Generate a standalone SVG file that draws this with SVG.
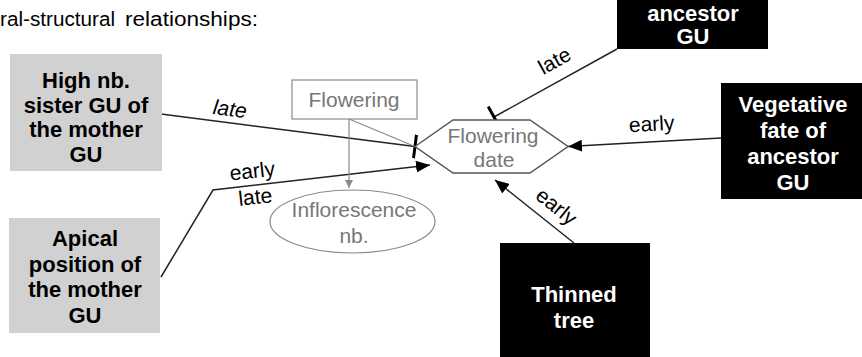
<svg xmlns="http://www.w3.org/2000/svg" width="862" height="357" viewBox="0 0 862 357">
<defs>
<style>
.t{font-family:"Liberation Sans",Arial,sans-serif}
.bw{font-family:"Liberation Sans",Arial,sans-serif;font-weight:bold;font-size:22px;fill:#fff;text-anchor:middle}
.bk{font-family:"Liberation Sans",Arial,sans-serif;font-weight:bold;font-size:22px;fill:#000;text-anchor:middle}
.gt{font-family:"Liberation Sans",Arial,sans-serif;font-size:21px;fill:#777;text-anchor:middle}
.lb{font-family:"Liberation Sans",Arial,sans-serif;font-size:21px;fill:#000;text-anchor:middle}
.ln{fill:none;stroke:#222;stroke-width:1.5}
.gl{fill:none;stroke:#8a8a8a;stroke-width:1.2}
</style>
<marker id="arr" markerWidth="14" markerHeight="12" refX="14" refY="6" orient="auto" markerUnits="userSpaceOnUse"><path d="M0,0 L14,6 L0,12 Z" fill="#000"/></marker>
<marker id="garr" markerWidth="8" markerHeight="8" refX="8" refY="4" orient="auto" markerUnits="userSpaceOnUse"><path d="M0,0 L8,4 L0,8 Z" fill="#8a8a8a"/></marker>
<marker id="tbar" markerWidth="4" markerHeight="24" refX="2" refY="12" orient="auto" markerUnits="userSpaceOnUse"><rect x="0.5" y="0" width="3" height="24" fill="#000"/></marker>
</defs>
<rect width="862" height="357" fill="#fff"/>
<text class="t" font-size="20" y="26"><tspan x="0" textLength="115" lengthAdjust="spacingAndGlyphs">ral-structural</tspan><tspan x="125" textLength="133" lengthAdjust="spacingAndGlyphs">relationships:</tspan></text>

<g id="connectors">
<path class="ln" d="M161,114 L415,146.5" marker-end="url(#tbar)"/>
<path class="ln" d="M161,277 L213,190 L430,165" marker-end="url(#arr)"/>
<path class="ln" d="M617,49 L494,117" marker-end="url(#tbar)"/>
<path class="ln" d="M721,138 L568,146.5" marker-end="url(#arr)"/>
<path class="ln" d="M574,243 L495,180" marker-end="url(#arr)"/>
<path class="gl" d="M349,119 L349,188" marker-end="url(#garr)"/>
<path class="gl" d="M349,119 L415,146.5"/>
<text class="lb" font-style="italic" x="229" y="116" transform="rotate(7 229 116)">late</text>
<text class="lb" x="253" y="178" transform="rotate(-6.4 253 178)">early</text>
<text class="lb" x="256" y="204" transform="rotate(-6.4 256 204)">late</text>
<text class="lb" x="652" y="131" transform="rotate(-3 652 131)">early</text>
<text class="lb" x="558" y="67" transform="rotate(-29 558 67)">late</text>
<text class="lb" x="552" y="212" transform="rotate(39 552 212)">early</text>
</g>

<g id="high-nb-sister">
<rect x="10" y="54" width="152" height="117" fill="#d1d1d1"/>
<text class="bk" x="86" y="88">High nb.</text>
<text class="bk" x="86" y="112.5">sister GU of</text>
<text class="bk" x="86" y="137">the mother</text>
<text class="bk" x="86" y="161.5">GU</text>
</g>

<g id="apical-position">
<rect x="9" y="218" width="151" height="115" fill="#d1d1d1"/>
<text class="bk" x="85" y="245.5">Apical</text>
<text class="bk" x="85" y="271.5">position of</text>
<text class="bk" x="85" y="297">the mother</text>
<text class="bk" x="85" y="323">GU</text>
</g>

<g id="flowering">
<rect x="292" y="80" width="125" height="39" fill="#fff" stroke="#8a8a8a" stroke-width="1.2"/>
<text class="gt" x="354" y="107">Flowering</text>
</g>

<g id="inflorescence-nb">
<ellipse cx="352.5" cy="221.5" rx="82.5" ry="31.5" fill="#fff" stroke="#8a8a8a" stroke-width="1.2"/>
<text class="gt" x="354" y="217">Inflorescence</text>
<text class="gt" x="354" y="243">nb.</text>
</g>

<g id="flowering-date">
<polygon points="415,146.5 453,120 530,120 568,146.5 530,173 453,173" fill="#fff" stroke="#555" stroke-width="1.5"/>
<text class="gt" x="493" y="143">Flowering</text>
<text class="gt" x="494" y="167">date</text>
</g>

<g id="ancestor-gu-top">
<rect x="617" y="-70" width="151" height="119" fill="#000"/>
<text class="bw" x="693" y="20.5">ancestor</text>
<text class="bw" x="693" y="43.5">GU</text>
</g>

<g id="vegetative-fate">
<rect x="721" y="83" width="146" height="116" fill="#000"/>
<text class="bw" x="793" y="112">Vegetative</text>
<text class="bw" x="793" y="138">fate of</text>
<text class="bw" x="793" y="164">ancestor</text>
<text class="bw" x="793" y="190">GU</text>
</g>

<g id="thinned-tree">
<rect x="500" y="243" width="150" height="130" fill="#000"/>
<text class="bw" x="574" y="302">Thinned</text>
<text class="bw" x="574" y="327.5">tree</text>
</g>
</svg>
